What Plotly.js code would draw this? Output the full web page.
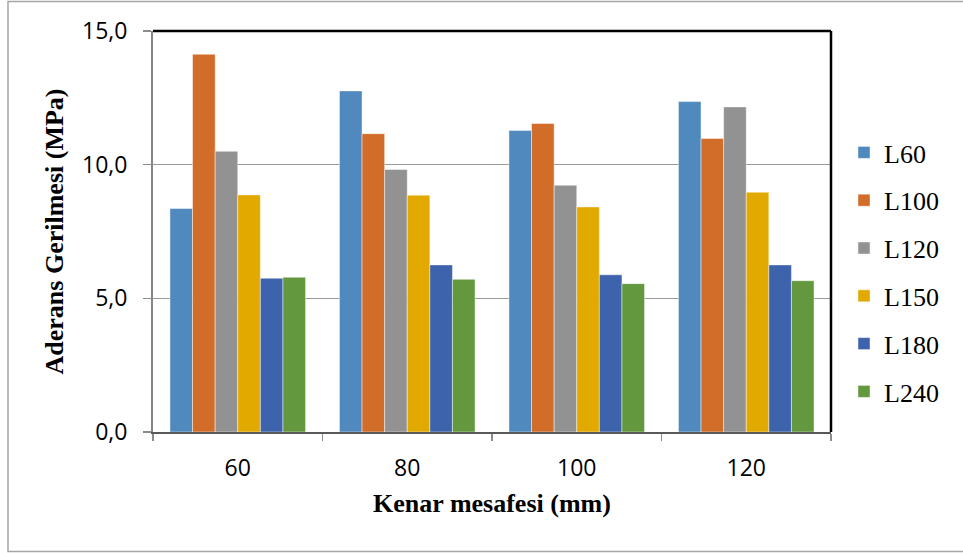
<!DOCTYPE html>
<html>
<head>
<meta charset="utf-8">
<script src="https://cdn.plot.ly/plotly-3.0.1.min.js"></script>
<style>
  html, body { margin: 0; padding: 0; background: #ffffff; }
  #chart { width: 963px; height: 553px; }
</style>
</head>
<body>
<div id="chart"></div>
<script>
// ---- data ----
const categories = ["60", "80", "100", "120"];
const seriesNames = ["L60", "L100", "L120", "L150", "L180", "L240"];
const L60  = [8.36, 12.76, 11.28, 12.36];
const L100 = [14.13, 11.16, 11.54, 10.98];
const L120 = [10.50, 9.82, 9.23, 12.16];
const L150 = [8.87, 8.86, 8.42, 8.97];
const L180 = [5.75, 6.25, 5.88, 6.25];
const L240 = [5.79, 5.71, 5.55, 5.66];
const seriesValues = [L60, L100, L120, L150, L180, L240];
const seriesColors = ["#4F89BD", "#D16C29", "#929292", "#E2A900", "#3C63AC", "#63983E"];

const traces = seriesNames.map((name, i) => ({
  type: "bar",
  name: name,
  x: categories,
  y: seriesValues[i],
  legendgroup: name,
  marker: { color: seriesColors[i], line: { color: "rgba(255,255,255,0.45)", width: 1 } },
  hoverinfo: "x+y+name"
}));

// plot area in pixels
const W = 963, H = 553;
const L = 153, R = 132, T = 31, B = 121;
const pw = W - L - R, ph = H - T - B;
const px = v => (v - L) / pw;
const py = v => (H - B - v) / ph;

const layout = {
  width: W, height: H,
  margin: { l: L, r: R, t: T, b: B, pad: 0 },
  paper_bgcolor: "#ffffff",
  plot_bgcolor: "#ffffff",
  separators: ",.",
  barmode: "group",
  bargap: 0.2,
  bargroupgap: 0,
  showlegend: true,
  legend: {
    x: px(844), xanchor: "left",
    y: py(272), yanchor: "middle",
    font: { family: "Liberation Serif, Times New Roman, serif", size: 26, color: "#000000" },
    tracegroupgap: 11,
    bgcolor: "rgba(0,0,0,0)"
  },
  xaxis: {
    type: "category",
    tickson: "boundaries",
    ticks: "outside",
    ticklen: 7,
    tickwidth: 1.5,
    tickcolor: "#8c8c8c",
    ticklabelstandoff: 14,
    showline: true,
    linecolor: "#595959",
    linewidth: 2,
    showgrid: false,
    tickfont: { family: "Open Sans, Noto Sans, sans-serif", size: 23, color: "#000000" },
    title: {
      text: "Kenar mesafesi (mm)",
      font: { family: "Liberation Serif, Times New Roman, serif", size: 26, color: "#000000", weight: "bold" },
      standoff: 12
    },
    automargin: false
  },
  yaxis: {
    range: [0, 15],
    dtick: 5,
    tick0: 0,
    tickformat: ".1f",
    ticks: "outside",
    ticklen: 8,
    tickwidth: 1.5,
    tickcolor: "#8c8c8c",
    ticklabelstandoff: 11,
    showline: true,
    linecolor: "#868686",
    linewidth: 2,
    showgrid: true,
    gridcolor: "#9a9a9a",
    gridwidth: 1.3,
    zeroline: false,
    tickfont: { family: "Open Sans, Noto Sans, sans-serif", size: 23, color: "#000000" },
    title: {
      text: "Aderans Gerilmesi (MPa)",
      font: { family: "Liberation Serif, Times New Roman, serif", size: 26, color: "#000000", weight: "bold" },
      standoff: 11
    },
    automargin: false
  },
  shapes: [
    // top and right plot borders (black)
    { type: "line", xref: "paper", yref: "paper", x0: 0, x1: 1, y0: 1, y1: 1, line: { color: "#000000", width: 2.5 } },
    { type: "line", xref: "paper", yref: "paper", x0: 1, x1: 1, y0: 0, y1: 1, line: { color: "#000000", width: 2.5 } },
    // outer chart frame
    { type: "rect", xref: "paper", yref: "paper", layer: "below",
      x0: px(8), x1: px(975), y0: py(551.5), y1: py(1.5),
      line: { color: "#a6a6a6", width: 1.5 }, fillcolor: "rgba(0,0,0,0)" }
  ]
};

Plotly.newPlot("chart", traces, layout, { displayModeBar: false, staticPlot: true });
</script>
</body>
</html>
